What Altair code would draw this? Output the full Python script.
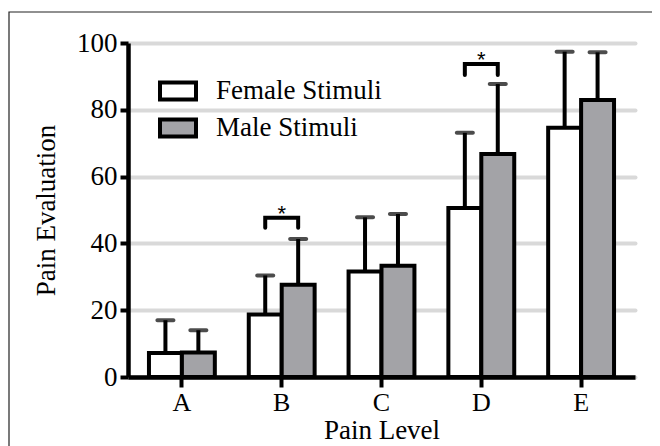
import altair as alt
import pandas as pd

categories = ["A", "B", "C", "D", "E"]
series = ["Female Stimuli", "Male Stimuli"]
female_mean = [7.2, 18.7, 31.6, 50.6, 74.6]
male_mean = [7.3, 27.6, 33.3, 66.8, 82.9]
female_sd = [9.8, 11.7, 16.2, 22.5, 22.8]
male_sd = [6.7, 13.7, 15.5, 20.9, 14.3]
y_ticks = [0, 20, 40, 60, 80, 100]

sig_levels = ["B", "D"]
sig_low = [44.7, 90.4]
sig_high = [47.7, 93.7]

rows = []
for i, c in enumerate(categories):
    rows.append({"level": c, "series": series[0], "mean": female_mean[i],
                 "top": female_mean[i] + female_sd[i]})
    rows.append({"level": c, "series": series[1], "mean": male_mean[i],
                 "top": male_mean[i] + male_sd[i]})
df = pd.DataFrame(rows)

br = []
for j, c in enumerate(sig_levels):
    pts = [(series[0], sig_low[j]), (series[0], sig_high[j]),
           (series[1], sig_high[j]), (series[1], sig_low[j])]
    for k, (s, v) in enumerate(pts):
        br.append({"level": c, "series": s, "val": v, "ord": k, "grp": c})
bdf = pd.DataFrame(br)
sdf = pd.DataFrame({"level": sig_levels, "val": sig_high, "lab": ["*", "*"]})

FONT = "Liberation Serif"
GRAY = "#a3a3a7"
FS = 27

x = alt.X("level:N", scale=alt.Scale(domain=categories, paddingInner=0.34, paddingOuter=0.21),
          axis=alt.Axis(title="Pain Level", labelAngle=0, tickSize=10, tickWidth=4,
                        labelPadding=2, titlePadding=2, domainWidth=4.5, domainColor="black",
                        tickColor="black", grid=False,
                        labelFont=FONT, titleFont=FONT, labelFontSize=26, titleFontSize=FS,
                        labelColor="black", titleColor="black", titleFontWeight="normal"))
xo = alt.XOffset("series:N", scale=alt.Scale(domain=series, paddingInner=0, paddingOuter=0))
yscale = alt.Scale(domain=[0, 100], nice=False)
y = alt.Y("mean:Q", scale=yscale,
          axis=alt.Axis(title="Pain Evaluation", values=y_ticks, tickSize=8, tickWidth=4,
                        labelPadding=3, titlePadding=16, domainWidth=4.5, domainColor="black",
                        tickColor="black", grid=True, gridColor="#d9d9d9", gridWidth=4,
                        gridCap="round",
                        labelFont=FONT, titleFont=FONT, labelFontSize=FS, titleFontSize=FS,
                        labelColor="black", titleColor="black", titleFontWeight="normal"))

base = alt.Chart(df)

err = base.mark_rule(color="black", strokeWidth=4).encode(
    x=x, xOffset=xo, y=alt.Y("mean:Q", scale=yscale), y2="top:Q")

bars = base.mark_bar(stroke="black", strokeWidth=4, strokeJoin="miter").encode(
    x=x, xOffset=xo, y=y,
    fill=alt.Fill("series:N", scale=alt.Scale(domain=series, range=["white", GRAY]),
                  legend=alt.Legend(title=None, orient="none", legendX=30, legendY=28,
                                    symbolType="M-1,-0.47H1V0.47H-1Z", symbolSize=1296,
                                    symbolStrokeColor="black", symbolStrokeWidth=4,
                                    symbolFillColor=GRAY,
                                    labelFont=FONT, labelFontSize=FS, labelColor="black",
                                    labelOffset=18, rowPadding=0, padding=0,
                                    labelLimit=400)))

caps = base.mark_tick(color="black", size=20, thickness=4, cornerRadius=2).encode(
    x=x, xOffset=xo, y=alt.Y("top:Q", scale=yscale))

brackets = alt.Chart(bdf).mark_line(color="black", strokeWidth=4, strokeCap="round",
                                    strokeJoin="miter").encode(
    x=x, xOffset=xo, y=alt.Y("val:Q", scale=yscale), detail="grp:N", order="ord:Q")

stars = alt.Chart(sdf).mark_text(font="Liberation Sans", fontSize=22, baseline="alphabetic",
                                 dy=3, color="black").encode(
    x=x, y=alt.Y("val:Q", scale=yscale), text="lab:N")

frame = alt.Chart(alt.Data(values=[{"a": 1}])).mark_rect(
    fillOpacity=0, stroke="#222", strokeWidth=1.2).encode(
    x=alt.value(-119), x2=alt.value(800), y=alt.value(-31), y2=alt.value(700))

chart = alt.layer(err, bars, caps, brackets, stars, frame).properties(
    width=507, height=334,
    autosize=alt.AutoSizeParams(type="none"),
    padding={"left": 120, "top": 35, "right": 17, "bottom": 70},
    background="white",
).configure_view(stroke=None)

chart.save("out.html", embed_options={"renderer": "svg", "actions": False})
